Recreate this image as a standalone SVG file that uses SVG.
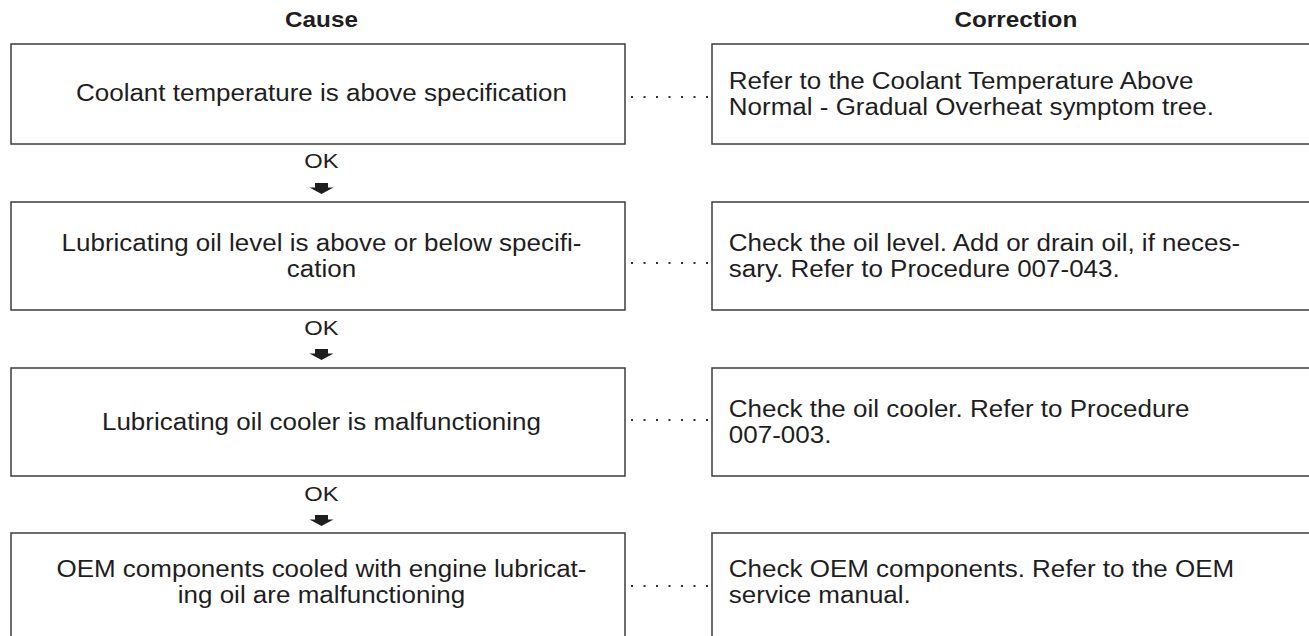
<svg xmlns="http://www.w3.org/2000/svg" width="1309" height="636" viewBox="0 0 1309 636">
<style>
.box{fill:#fff;stroke:#3c3c3c;stroke-width:1.5}
.t{font-family:"Liberation Sans",Arial,sans-serif;font-size:23px;fill:#1e1e1e}
.c{text-anchor:middle}
.h{font-family:"Liberation Sans",Arial,sans-serif;font-size:21.5px;font-weight:bold;fill:#1e1e1e;text-anchor:middle}
.ok{font-family:"Liberation Sans",Arial,sans-serif;font-size:21px;fill:#1e1e1e;text-anchor:middle}
.dots{stroke:#333;stroke-width:2;stroke-dasharray:2 10.5;fill:none}
.arr{fill:#1e1e1e}
</style>
<rect width="1309" height="636" fill="#fff"/>
<g id="headers" transform="scale(1.13 1)">
<text class="h" x="284.5" y="27">Cause</text>
<text class="h" x="899" y="27">Correction</text>
</g>
<g id="cause1"><rect class="box" x="11" y="44" width="614" height="100"/>
<g transform="scale(1.13 1)"><text class="t c" x="284.5" y="101">Coolant temperature is above specification</text></g></g>
<g id="corr1"><rect class="box" x="712" y="44" width="610" height="100"/>
<g transform="scale(1.13 1)"><text class="t" x="645" y="89">Refer to the Coolant Temperature Above</text>
<text class="t" x="645" y="115">Normal - Gradual Overheat symptom tree.</text></g></g>
<g id="cause2"><rect class="box" x="11" y="202" width="614" height="108"/>
<g transform="scale(1.13 1)"><text class="t c" x="284.5" y="251">Lubricating oil level is above or below specifi-</text>
<text class="t c" x="284.5" y="277">cation</text></g></g>
<g id="corr2"><rect class="box" x="712" y="202" width="610" height="108"/>
<g transform="scale(1.13 1)"><text class="t" x="645" y="251">Check the oil level. Add or drain oil, if neces-</text>
<text class="t" x="645" y="277">sary. Refer to Procedure 007-043.</text></g></g>
<g id="cause3"><rect class="box" x="11" y="368" width="614" height="108"/>
<g transform="scale(1.13 1)"><text class="t c" x="284.5" y="430">Lubricating oil cooler is malfunctioning</text></g></g>
<g id="corr3"><rect class="box" x="712" y="368" width="610" height="108"/>
<g transform="scale(1.13 1)"><text class="t" x="645" y="417">Check the oil cooler. Refer to Procedure</text>
<text class="t" x="645" y="443">007-003.</text></g></g>
<g id="cause4"><rect class="box" x="11" y="533" width="614" height="120"/>
<g transform="scale(1.13 1)"><text class="t c" x="284.5" y="577">OEM components cooled with engine lubricat-</text>
<text class="t c" x="284.5" y="603">ing oil are malfunctioning</text></g></g>
<g id="corr4"><rect class="box" x="712" y="533" width="610" height="120"/>
<g transform="scale(1.13 1)"><text class="t" x="645" y="577">Check OEM components. Refer to the OEM</text>
<text class="t" x="645" y="603">service manual.</text></g></g>
<g id="connectors">
<path class="dots" d="M631 97H708M631 263H708M631 420H708M631 586H708"/>
<g transform="scale(1.13 1)">
<text class="ok" x="284.5" y="168">OK</text>
<text class="ok" x="284.5" y="335">OK</text>
<text class="ok" x="284.5" y="501">OK</text>
</g>
<path class="arr" d="M315 183h13v4.5h5.5l-12 6.5l-12-6.5h5.5z"/>
<path class="arr" d="M315 349h13v4.5h5.5l-12 6.5l-12-6.5h5.5z"/>
<path class="arr" d="M315 515h13v4.5h5.5l-12 6.5l-12-6.5h5.5z"/>
</g>
</svg>
